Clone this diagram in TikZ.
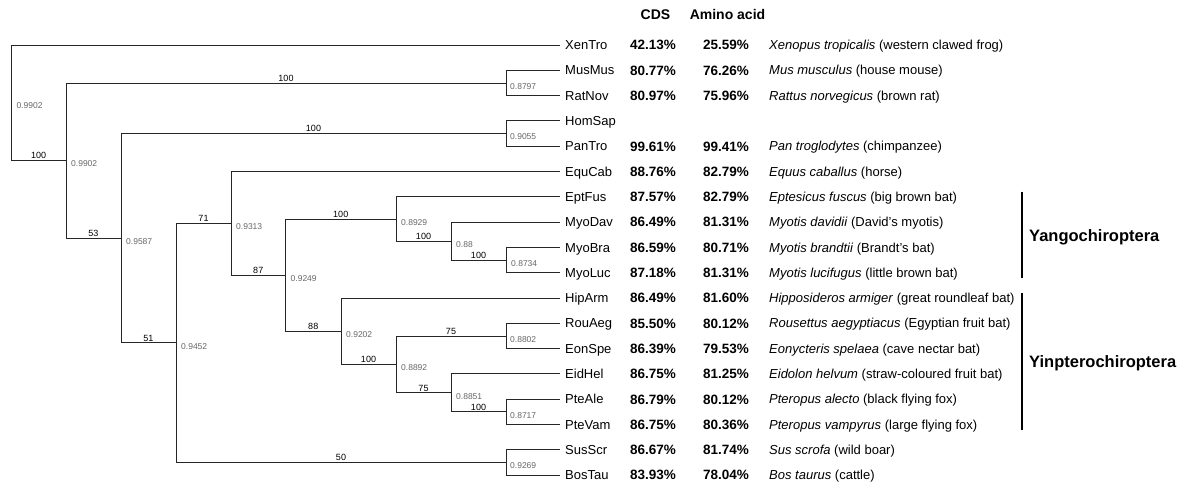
\documentclass[tikz,border=0pt]{standalone}
\usepackage{fontspec}
\setmainfont{Liberation Sans}
\begin{document}
\begin{tikzpicture}[x=1pt,y=-1pt,
 br/.style={line width=0.9pt, draw=black!85},
 bs/.style={font=\fontsize{9}{10}\selectfont, inner sep=1.2pt, above, pos=.75},
 pp/.style={font=\fontsize{8.5}{9}\selectfont, text=black!60, anchor=north west, inner sep=0pt},
 leaf/.style={font=\fontsize{13}{15}\selectfont, anchor=west, inner xsep=5pt, inner ysep=0pt, text height=9.3pt, text depth=0pt},
 pct/.style={font=\bfseries\fontsize{13.5}{15}\selectfont, anchor=east, inner sep=0pt, text height=9.7pt, text depth=0pt},
 sp/.style={font=\fontsize{13}{15}\selectfont, anchor=west, inner sep=0pt, text height=9.3pt, text depth=0pt},
 hdr/.style={font=\bfseries\fontsize{14}{16}\selectfont, inner sep=0pt, text height=10pt, text depth=0pt},
 grp/.style={font=\bfseries\fontsize{16.5}{18}\selectfont, anchor=west, inner sep=0pt, text height=11.8pt, text depth=0pt},
 bar/.style={line width=2pt, draw=black}]
\useasboundingbox (0,0) rectangle (1189,487);

% headers
\node[hdr] (hcds) at (655.5,15) {CDS};
\node[hdr] (haa) at (727.5,15) {Amino acid};

% leaves
\foreach \i/\n/\c/\a/\s/\cn in {
 0/XenTro/42.13/25.59/Xenopus tropicalis/western clawed frog,
 1/MusMus/80.77/76.26/Mus musculus/house mouse,
 2/RatNov/80.97/75.96/Rattus norvegicus/brown rat,
 4/PanTro/99.61/99.41/Pan troglodytes/chimpanzee,
 5/EquCab/88.76/82.79/Equus caballus/horse,
 6/EptFus/87.57/82.79/Eptesicus fuscus/big brown bat,
 7/MyoDav/86.49/81.31/Myotis davidii/David’s myotis,
 8/MyoBra/86.59/80.71/Myotis brandtii/Brandt’s bat,
 9/MyoLuc/87.18/81.31/Myotis lucifugus/little brown bat,
 10/HipArm/86.49/81.60/Hipposideros armiger/great roundleaf bat,
 11/RouAeg/85.50/80.12/Rousettus aegyptiacus/Egyptian fruit bat,
 12/EonSpe/86.39/79.53/Eonycteris spelaea/cave nectar bat,
 13/EidHel/86.75/81.25/Eidolon helvum/straw-coloured fruit bat,
 14/PteAle/86.79/80.12/Pteropus alecto/black flying fox,
 15/PteVam/86.75/80.36/Pteropus vampyrus/large flying fox,
 16/SusScr/86.67/81.74/Sus scrofa/wild boar,
 17/BosTau/83.93/78.04/Bos taurus/cattle}{
 \node[leaf] (\n) at (560,{45+25.3*\i}) {\n};
 \node[pct] (c\n) at (676,{45+25.3*\i}) {\c\%};
 \node[pct] (a\n) at (749,{45+25.3*\i}) {\a\%};
 \node[sp] (s\n) at (769,{45+25.3*\i}) {\textit{\s} (\cn)};
}
\node[leaf] (HomSap) at (560,{45+25.3*3}) {HomSap};

% internal nodes
\coordinate (root) at (11.3,102.8);
\coordinate (nMam) at (66,160.6);
\coordinate (nBoreo) at (121,238.3);
\coordinate (nLaur2) at (176,342.9);
\coordinate (nLaur) at (231,223.3);
\coordinate (nBat) at (285.5,275.1);
\coordinate (nYin) at (341,331.2);
\coordinate (nVesp) at (396,219);
\coordinate (nMyo2) at (451,241);
\coordinate (nMyo) at (506,260);
\coordinate (nMR) at (506,83);
\coordinate (nHP) at (506,133.6);
\coordinate (nSB) at (506,462.5);
\coordinate (nPter) at (396,364.4);
\coordinate (nRE) at (506,336);
\coordinate (nEPP) at (451,392.9);
\coordinate (nPP) at (506,411.9);

% branches
\draw[br] (root) |- (XenTro.west);
\draw[br] (root) |- node[bs] (b1) {100} (nMam);
\draw[br] (nMam) |- node[bs] (b2) {100} (nMR);
\draw[br] (nMam) |- node[bs] (b3) {53} (nBoreo);
\draw[br] (nMR) |- (MusMus.west);
\draw[br] (nMR) |- (RatNov.west);
\draw[br] (nBoreo) |- node[bs] (b4) {100} (nHP);
\draw[br] (nBoreo) |- node[bs] (b5) {51} (nLaur2);
\draw[br] (nHP) |- (HomSap.west);
\draw[br] (nHP) |- (PanTro.west);
\draw[br] (nLaur2) |- node[bs] (b6) {71} (nLaur);
\draw[br] (nLaur2) |- node[bs] (b7) {50} (nSB);
\draw[br] (nSB) |- (SusScr.west);
\draw[br] (nSB) |- (BosTau.west);
\draw[br] (nLaur) |- (EquCab.west);
\draw[br] (nLaur) |- node[bs] (b8) {87} (nBat);
\draw[br] (nBat) |- node[bs] (b9) {100} (nVesp);
\draw[br] (nBat) |- node[bs] (b10) {88} (nYin);
\draw[br] (nVesp) |- (EptFus.west);
\draw[br] (nVesp) |- node[bs] (b11) {100} (nMyo2);
\draw[br] (nMyo2) |- (MyoDav.west);
\draw[br] (nMyo2) |- node[bs] (b12) {100} (nMyo);
\draw[br] (nMyo) |- (MyoBra.west);
\draw[br] (nMyo) |- (MyoLuc.west);
\draw[br] (nYin) |- (HipArm.west);
\draw[br] (nYin) |- node[bs] (b13) {100} (nPter);
\draw[br] (nPter) |- node[bs] (b14) {75} (nRE);
\draw[br] (nPter) |- node[bs] (b15) {75} (nEPP);
\draw[br] (nRE) |- (RouAeg.west);
\draw[br] (nRE) |- (EonSpe.west);
\draw[br] (nEPP) |- (EidHel.west);
\draw[br] (nEPP) |- node[bs] (b16) {100} (nPP);
\draw[br] (nPP) |- (PteAle.west);
\draw[br] (nPP) |- (PteVam.west);

% posterior probabilities
\node[pp] (p0) at ([xshift=5pt]root) {0.9902};
\node[pp] (p1) at ([xshift=5pt]nMam) {0.9902};
\node[pp] (p2) at ([xshift=5pt]nBoreo) {0.9587};
\node[pp] (p3) at ([xshift=5pt]nLaur2) {0.9452};
\node[pp] (p4) at ([xshift=5pt]nLaur) {0.9313};
\node[pp] (p5) at ([xshift=5pt]nBat) {0.9249};
\node[pp] (p6) at ([xshift=5pt]nYin) {0.9202};
\node[pp] (p7) at ([xshift=5pt]nVesp) {0.8929};
\node[pp] (p8) at ([xshift=5pt]nMyo2) {0.88};
\node[pp] (p9) at ([xshift=5pt]nMyo) {0.8734};
\node[pp] (p10) at ([xshift=4pt]nMR) {0.8797};
\node[pp] (p11) at ([xshift=4pt]nHP) {0.9055};
\node[pp] (p12) at ([xshift=4pt]nSB) {0.9269};
\node[pp] (p13) at ([xshift=5pt]nPter) {0.8892};
\node[pp] (p14) at ([xshift=4pt]nRE) {0.8802};
\node[pp] (p15) at ([xshift=5pt]nEPP) {0.8851};
\node[pp] (p16) at ([xshift=4pt]nPP) {0.8717};

% groups
\coordinate (ya1) at (1021.7,191.7);
\coordinate (ya2) at (1021.7,278);
\coordinate (yi1) at (1021.7,292.7);
\coordinate (yi2) at (1021.7,430);
\draw[bar] (ya1) -- (ya2);
\draw[bar] (yi1) -- (yi2);
\node[grp] (yang) at (1029,236) {Yangochiroptera};
\node[grp] (yin) at (1029,362) {Yinpterochiroptera};
\end{tikzpicture}
\end{document}
